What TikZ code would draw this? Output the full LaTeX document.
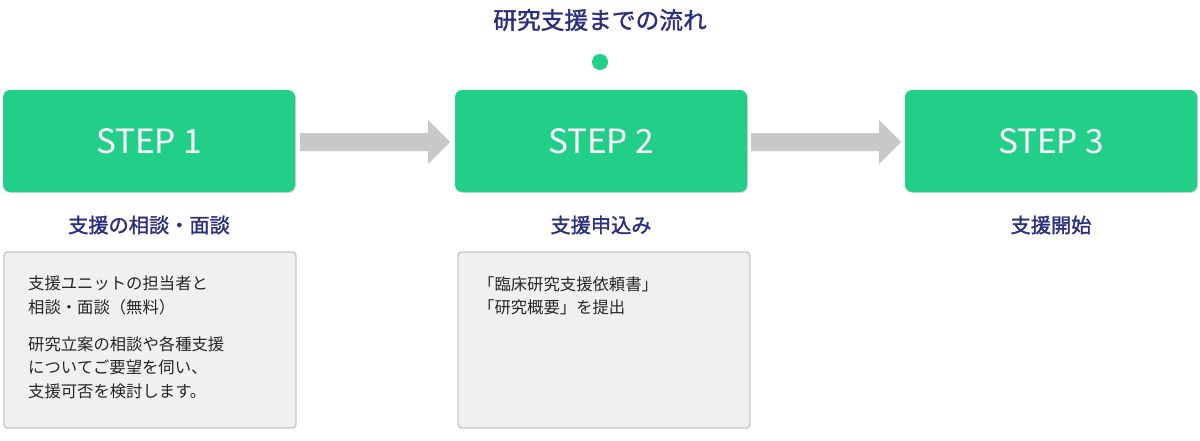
\documentclass[tikz,border=0pt]{standalone}
\usepackage{fontspec}
\setmainfont{Noto Sans CJK JP}
\newfontfamily\jpbold{Noto Sans CJK JP}[FakeBold=1.5]
\usetikzlibrary{shadows}
\definecolor{grn}{HTML}{22CF88}
\definecolor{navy}{HTML}{2B2F7F}
\definecolor{arr}{HTML}{C8C8C8}
\definecolor{boxg}{HTML}{F0F0F0}
\definecolor{boxb}{HTML}{C6C6C6}
\tikzset{
  stepbox/.style={fill=grn, rounded corners=4pt, minimum width=292*0.02cm, minimum height=102*0.02cm, text=white, font=\fontsize{19}{19}\selectfont, drop shadow={shadow xshift=0.5pt, shadow yshift=-0.5pt, fill=black!35, opacity=0.5}},
  lbl/.style={text=navy, font=\jpbold\fontsize{11.5}{12}\selectfont},
  info/.style={fill=boxg, draw=boxb, line width=0.8pt, rounded corners=2pt, minimum width=292*0.02cm, minimum height=176*0.02cm},
  body/.style={text=black!85, font=\fontsize{9.3}{13.5}\selectfont, align=left, anchor=north west},
  flow/.style={fill=arr, draw=none}
}
\begin{document}
\begin{tikzpicture}[x=0.02cm,y=-0.02cm]
\useasboundingbox (0,0) rectangle (1200,440);
\node[text=navy, font=\jpbold\fontsize{13.5}{14}\selectfont] (title) at (600,20) {研究支援までの流れ};
\fill[grn] (600,62) circle (8);
\node[stepbox] (s1) at (149,141) {STEP\ 1};
\node[stepbox] (s2) at (601,141) {STEP\ 2};
\node[stepbox] (s3) at (1051,141) {STEP\ 3};
\fill[flow] (300,133) -- (428,133) -- (428,120) -- (450,142) -- (428,164) -- (428,151) -- (300,151) -- cycle;
\fill[flow] (751,133) -- (879,133) -- (879,120) -- (901,142) -- (879,164) -- (879,151) -- (751,151) -- cycle;
\node[lbl] (l1) at (149,225) {支援の相談・面談};
\node[lbl] (l2) at (601,225) {支援申込み};
\node[lbl] (l3) at (1051,225) {支援開始};
\node[info] (b1) at (150,340) {};
\node[info] (b2) at (604,340) {};
\node[body] (t1) at (22,270) {支援ユニットの担当者と\\相談・面談（無料）};
\node[body] (t1b) at (22,330) {研究立案の相談や各種支援\\についてご要望を伺い、\\支援可否を検討します。};
\node[body] (t2) at (472,270) {「臨床研究支援依頼書」\\「研究概要」を提出};
\end{tikzpicture}
\end{document}
